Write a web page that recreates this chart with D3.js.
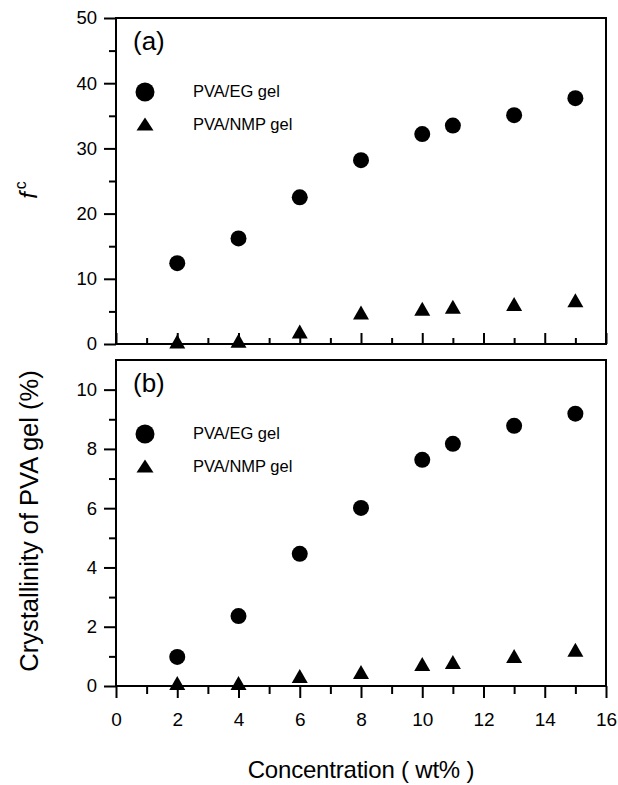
<!DOCTYPE html>
<html>
<head>
<meta charset="utf-8">
<script src="https://cdn.jsdelivr.net/npm/d3@7"></script>
<style>
  body { margin: 0; background: #fff; }
  svg text { font-family: "Liberation Sans", Arial, sans-serif; fill: #000; }
</style>
</head>
<body>
<div id="chart"></div>
<script>
// concentration (wt%)
const conc = [2, 4, 6, 8, 10, 11, 13, 15];
// panel (a) f^c
const fcEG  = [12.4, 16.2, 22.5, 28.2, 32.2, 33.5, 35.1, 37.7];
const fcNMP = [0.4, 0.5, 1.9, 4.85, 5.4, 5.7, 6.15, 6.7];
// panel (b) crystallinity (%)
const crysEG  = [0.98, 2.36, 4.46, 6.01, 7.63, 8.17, 8.78, 9.19];
const crysNMP = [0.1, 0.1, 0.34, 0.47, 0.74, 0.81, 1.01, 1.22];

const xMajor = [0, 2, 4, 6, 8, 10, 12, 14, 16];
const xMinor = [1, 3, 5, 7, 9, 11, 13, 15];
const yMajorA = [0, 10, 20, 30, 40, 50];
const yMinorA = [5, 15, 25, 35, 45];
const yMajorB = [0, 2, 4, 6, 8, 10];
const yMinorB = [1, 3, 5, 7, 9];
const seriesNames = ["PVA/EG gel", "PVA/NMP gel"];

const W = 618, H = 785;
const svg = d3.select("#chart").append("svg")
    .attr("width", W).attr("height", H);

let x = d3.scaleLinear().domain([0, 16]).range([116, 606]);
let yA = d3.scaleLinear().domain([0, 50]).range([344, 18]);
let yB = d3.scaleLinear().domain([0, 11]).range([686, 360]);

function tri(w, h) {
    return `M0,${-h / 2}L${w / 2},${h / 2}L${-w / 2},${h / 2}Z`;
}

function drawPanel(y, yMajor, yMinor, eg, nmp, label, showXLabels) {
    const g = svg.append("g");

    // frame
    g.append("rect")
        .attr("x", x(0)).attr("y", y.range()[1])
        .attr("width", x(16) - x(0)).attr("height", y.range()[0] - y.range()[1])
        .attr("fill", "none").attr("stroke", "#000").attr("stroke-width", 2);

    // y axis
    g.append("g")
        .attr("transform", "translate(" + x(0) + ",0)")
        .call(d3.axisLeft(y).tickValues(yMajor).tickSize(12).tickSizeOuter(0).tickPadding(7))
        .call(a => a.select(".domain").remove())
        .call(a => a.selectAll("line").attr("stroke-width", 2))
        .call(a => a.selectAll("text").style("font-size", "18.5px").attr("fill", "#000"));
    g.append("g")
        .attr("transform", "translate(" + x(0) + ",0)")
        .call(d3.axisLeft(y).tickValues(yMinor).tickSize(7).tickFormat(""))
        .call(a => a.select(".domain").remove())
        .call(a => a.selectAll("line").attr("stroke-width", 2));

    // x axis
    const base = y.range()[0];
    if (showXLabels) {
        g.append("g")
            .attr("transform", "translate(0," + base + ")")
            .call(d3.axisBottom(x).tickValues(xMajor).tickSize(12).tickSizeOuter(0).tickPadding(15))
            .call(a => a.select(".domain").remove())
            .call(a => a.selectAll("line").attr("stroke-width", 2))
            .call(a => a.selectAll("text").style("font-size", "19px").attr("fill", "#000"));
        g.append("g")
            .attr("transform", "translate(0," + base + ")")
            .call(d3.axisBottom(x).tickValues(xMinor).tickSize(8).tickFormat(""))
            .call(a => a.select(".domain").remove())
            .call(a => a.selectAll("line").attr("stroke-width", 2));
    } else {
        g.append("g")
            .attr("transform", "translate(0," + base + ")")
            .call(d3.axisBottom(x).tickValues(xMajor).tickSize(-11).tickFormat(""))
            .call(a => a.select(".domain").remove())
            .call(a => a.selectAll("line").attr("stroke-width", 2));
        g.append("g")
            .attr("transform", "translate(0," + base + ")")
            .call(d3.axisBottom(x).tickValues(xMinor).tickSize(-6).tickFormat(""))
            .call(a => a.select(".domain").remove())
            .call(a => a.selectAll("line").attr("stroke-width", 2));
    }

    // points
    g.selectAll(".eg")
        .data(conc.map((c, i) => ({ c, v: eg[i] })))
        .enter().append("circle")
        .attr("cx", d => x(d.c))
        .attr("cy", d => y(d.v))
        .attr("r", 8)
        .attr("fill", "#000");

    g.selectAll(".nmp")
        .data(conc.map((c, i) => ({ c, v: nmp[i] })))
        .enter().append("path")
        .attr("d", tri(16, 14))
        .attr("transform", d => "translate(" + x(d.c) + "," + y(d.v) + ")")
        .attr("fill", "#000");

    // panel label and legend
    const top = y.range()[1];
    g.append("text")
        .attr("x", 133).attr("y", top + 32)
        .style("font-size", "26px")
        .text(label);

    g.append("circle")
        .attr("cx", 145).attr("cy", top + 74)
        .attr("r", 9.5).attr("fill", "#000");
    g.append("path")
        .attr("d", tri(17, 13))
        .attr("transform", "translate(145," + (top + 106) + ")")
        .attr("fill", "#000");
    g.selectAll(".leg")
        .data(seriesNames)
        .enter().append("text")
        .attr("x", 193)
        .attr("y", (d, i) => top + 79 + i * 33)
        .style("font-size", "16.5px")
        .text(d => d);
}

drawPanel(yA, yMajorA, yMinorA, fcEG, fcNMP, "(a)", false);
drawPanel(yB, yMajorB, yMinorB, crysEG, crysNMP, "(b)", true);

// axis titles
const fc = svg.append("text")
    .attr("transform", "translate(37,190) rotate(-90)")
    .attr("text-anchor", "middle")
    .style("font-size", "24px");
fc.append("tspan").style("font-style", "italic").text("f");
fc.append("tspan").attr("dx", 3).attr("dy", -11).style("font-size", "16px").text("c");

svg.append("text")
    .attr("transform", "translate(38,521) rotate(-90)")
    .attr("text-anchor", "middle")
    .style("font-size", "25.5px")
    .text("Crystallinity of PVA gel (%)");

svg.append("text")
    .attr("x", 361).attr("y", 778)
    .attr("text-anchor", "middle")
    .style("font-size", "24px")
    .style("letter-spacing", "-0.2px")
    .text("Concentration ( wt% )");
</script>
</body>
</html>
